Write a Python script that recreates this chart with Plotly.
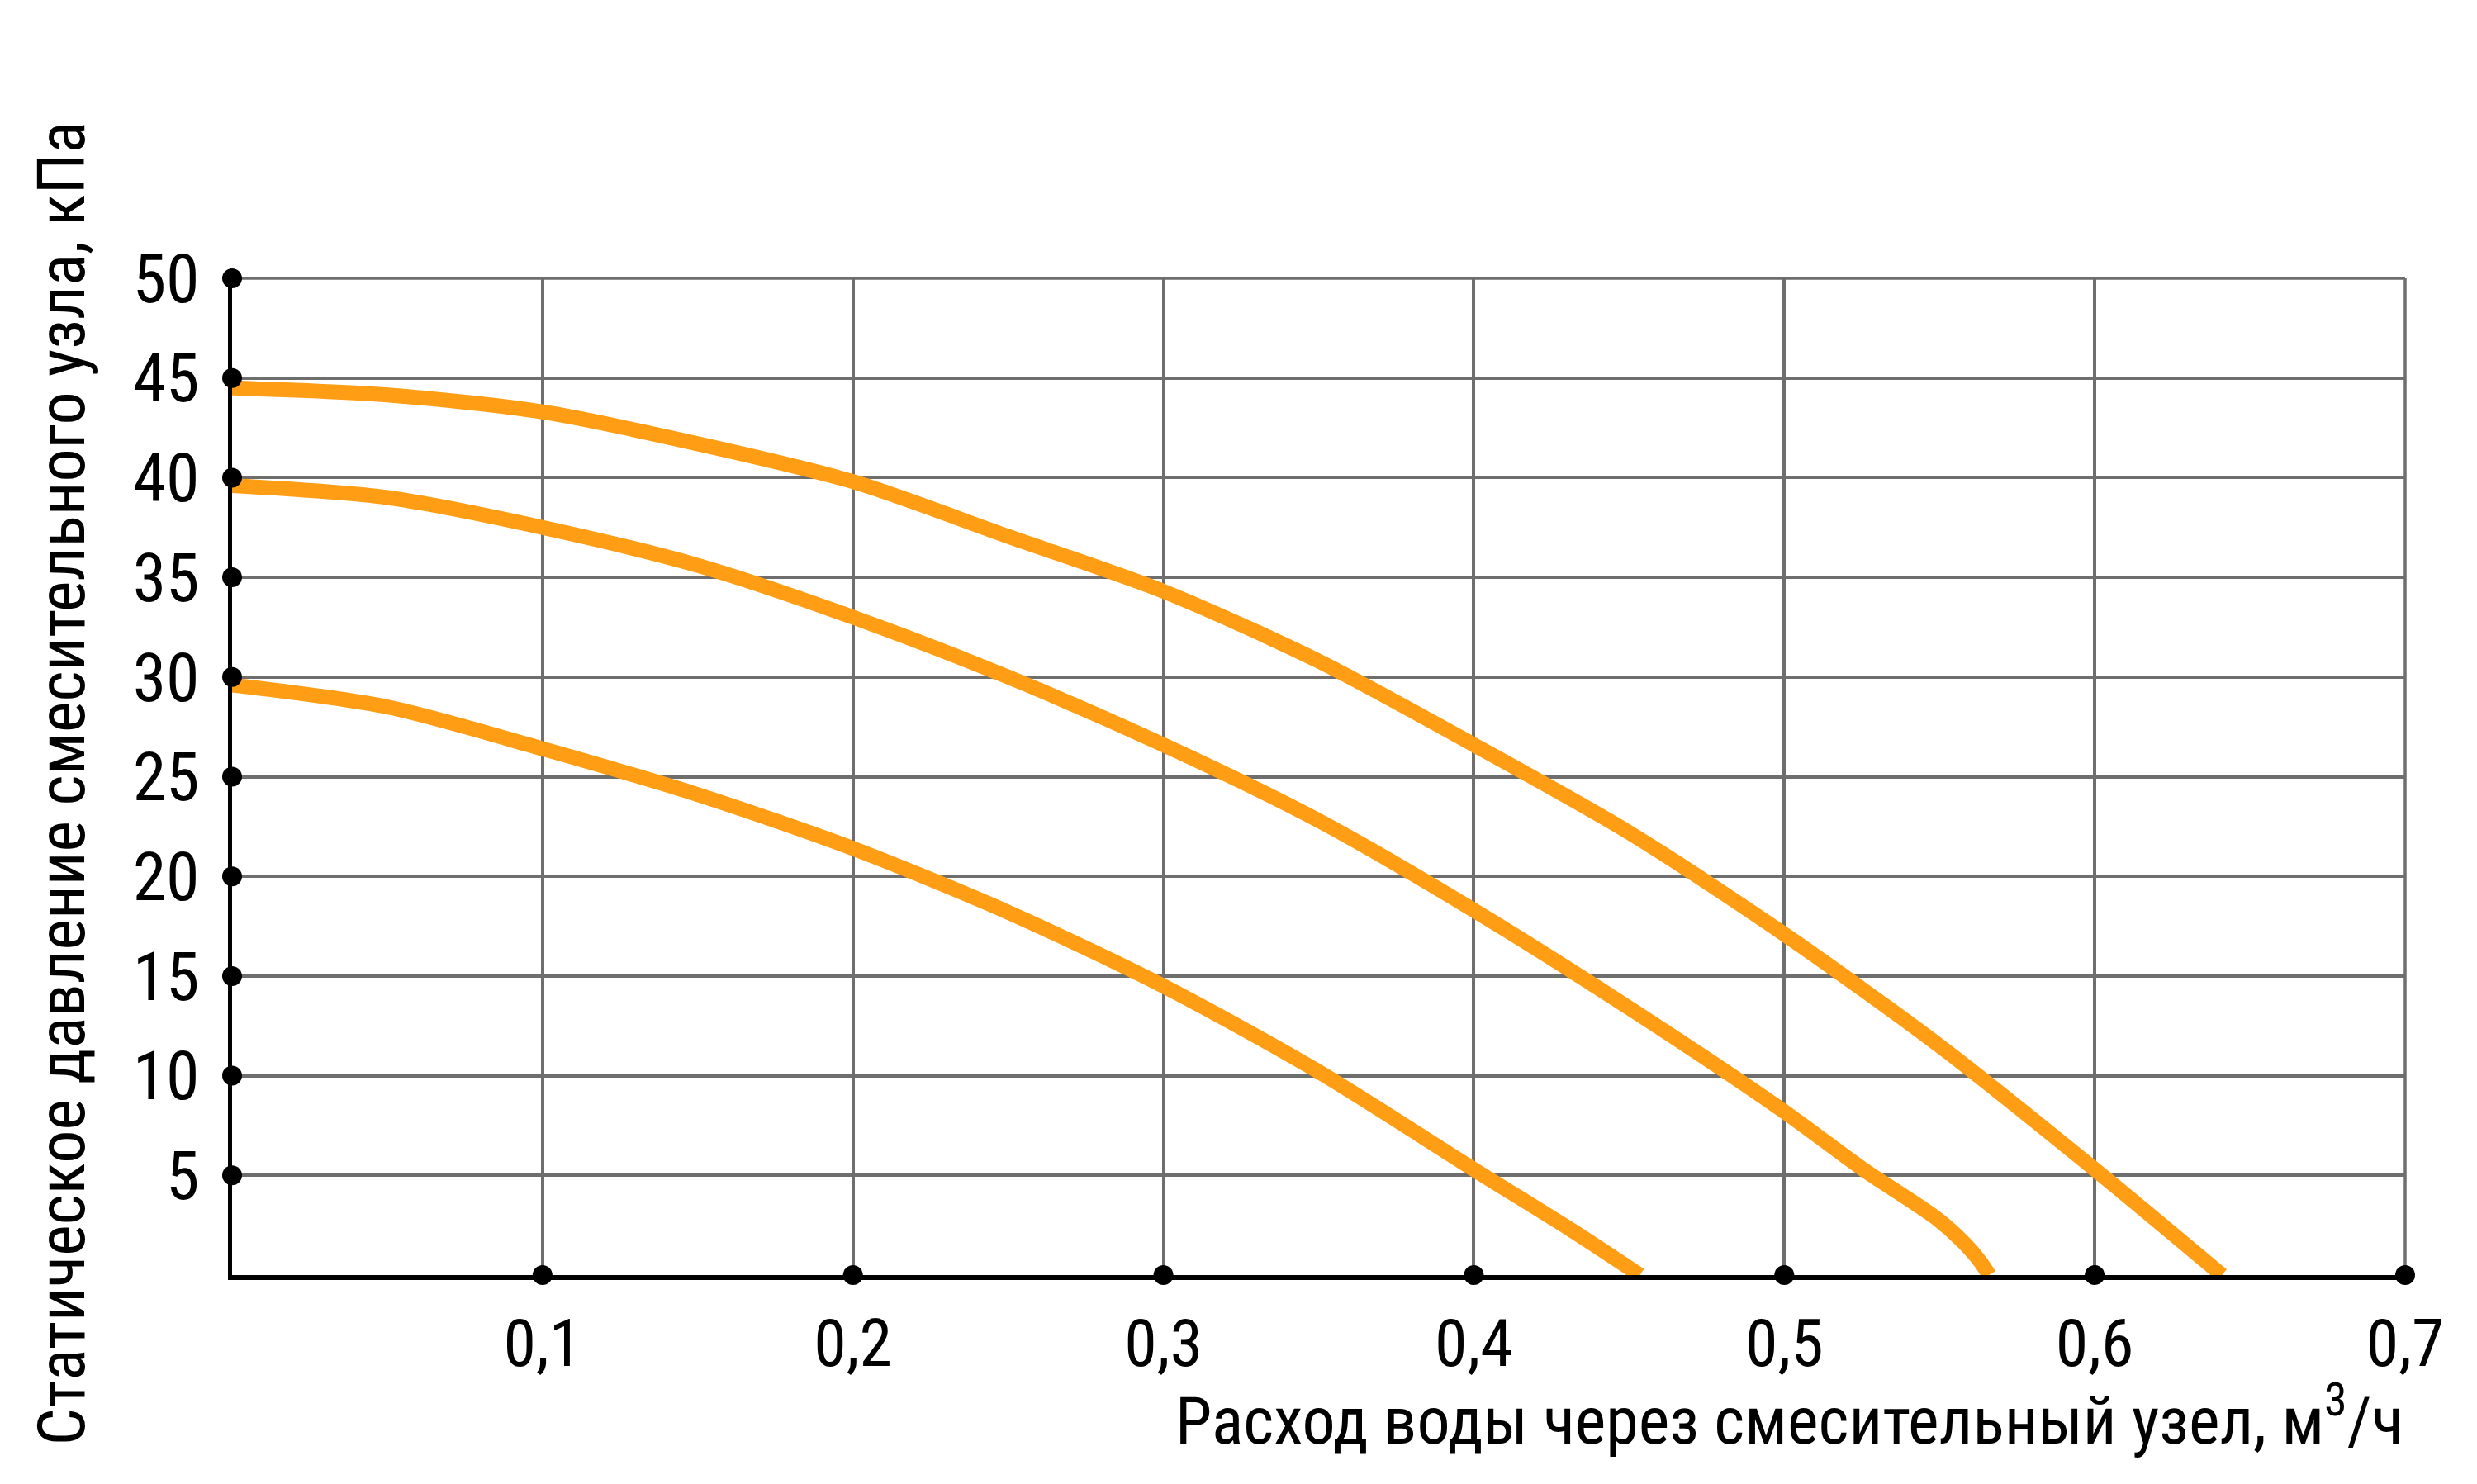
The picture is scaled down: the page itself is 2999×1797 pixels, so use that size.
import plotly.graph_objects as go

# расход воды, м3/ч и статическое давление, кПа
x_45 = [0.0, 0.05, 0.1, 0.15, 0.2, 0.25, 0.3, 0.35, 0.4, 0.45, 0.5, 0.55, 0.6, 0.641]
y_45 = [44.5, 44.15, 43.3, 41.7, 39.8, 37.05, 34.3, 30.8, 26.6, 22.2, 17.1, 11.5, 5.3, 0.0]

x_40 = [0.0, 0.05, 0.1, 0.15, 0.2, 0.25, 0.3, 0.35, 0.4, 0.45, 0.5, 0.525, 0.549, 0.558, 0.563, 0.566]
y_40 = [39.6, 39.0, 37.5, 35.6, 33.0, 30.0, 26.6, 22.8, 18.3, 13.4, 8.2, 5.35, 2.85, 1.6, 0.7, 0.0]

x_30 = [0.0, 0.05, 0.1, 0.15, 0.2, 0.25, 0.3, 0.35, 0.4, 0.432, 0.4535]
y_30 = [29.6, 28.5, 26.4, 24.1, 21.4, 18.2, 14.5, 10.2, 5.3, 2.2, 0.0]

x_ticks = [0.1, 0.2, 0.3, 0.4, 0.5, 0.6, 0.7]
x_labels = ["0,1", "0,2", "0,3", "0,4", "0,5", "0,6", "0,7"]
y_ticks = [5, 10, 15, 20, 25, 30, 35, 40, 45, 50]
y_labels = ["5", "10", "15", "20", "25", "30", "35", "40", "45", "50"]

FONT = "Roboto Condensed, Roboto, sans-serif"
ORANGE = "#ff9d14"
GRID = "#6e6e6e"

fig = go.Figure()

for xs, ys in [(x_45, y_45), (x_40, y_40), (x_30, y_30)]:
    fig.add_trace(go.Scatter(
        x=xs, y=ys, mode="lines",
        line=dict(color=ORANGE, width=18, shape="spline", smoothing=0.8),
        hoverinfo="skip",
    ))

# чёрные точки на осях
fig.add_trace(go.Scatter(
    x=x_ticks, y=[0] * len(x_ticks), mode="markers",
    marker=dict(color="black", size=24), cliponaxis=False, hoverinfo="skip",
))
fig.add_trace(go.Scatter(
    x=[0] * len(y_ticks), y=y_ticks, mode="markers",
    marker=dict(color="black", size=24), cliponaxis=False, hoverinfo="skip",
))

fig.update_layout(
    width=2999, height=1797,
    margin=dict(l=273, r=95, t=329, b=261),
    paper_bgcolor="white", plot_bgcolor="white",
    showlegend=False,
    font=dict(family=FONT, color="black"),
    # верхняя и правая границы сетки (plotly не рисует линии сетки на краях)
    shapes=[
        dict(type="line", xref="paper", yref="paper", x0=0, x1=1, y0=1, y1=1,
             line=dict(color=GRID, width=3.5), layer="below"),
        dict(type="line", xref="paper", yref="paper", x0=1, x1=1, y0=0, y1=1,
             line=dict(color=GRID, width=3.5), layer="below"),
    ],
    annotations=[
        dict(text="Расход воды через смесительный узел, м<sup>3</sup>/ч",
             xref="paper", yref="paper", x=1.0, y=-0.142,
             xanchor="right", yanchor="middle", showarrow=False,
             font=dict(family=FONT, size=80, color="black")),
        dict(text="Статическое давление смесительного узла, кПа",
             xref="paper", yref="paper", x=-0.0785, y=0.493,
             xanchor="center", yanchor="middle", textangle=-90, showarrow=False,
             font=dict(family=FONT, size=80, color="black")),
    ],
)

fig.update_xaxes(
    range=[0, 0.7], tickvals=x_ticks, ticktext=x_labels,
    showgrid=True, gridcolor=GRID, gridwidth=3.5,
    showline=True, linecolor="black", linewidth=6,
    zeroline=False, ticks="", ticklabelstandoff=8,
    tickfont=dict(family=FONT, size=80, color="black"),
)
fig.update_yaxes(
    range=[0, 50], tickvals=y_ticks, ticktext=y_labels,
    showgrid=True, gridcolor=GRID, gridwidth=3.5,
    showline=True, linecolor="black", linewidth=5,
    zeroline=False, ticks="", ticklabelstandoff=18,
    tickfont=dict(family=FONT, size=82, color="black"),
)

fig.write_html("out.html")
